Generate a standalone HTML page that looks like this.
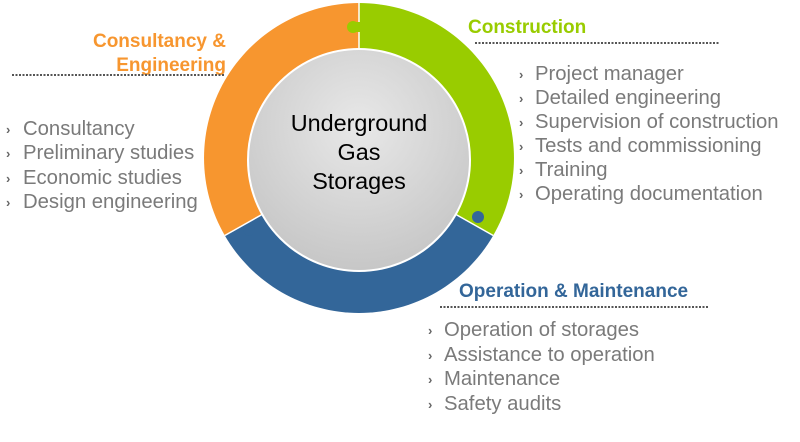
<!DOCTYPE html>
<html><head><meta charset="utf-8"><style>
html,body{margin:0;padding:0;background:#fff}
svg{display:block}
text{font-family:"Liberation Sans",Arial,sans-serif}
.it{font-size:20.3px;fill:#7a7a7a}
.bu{font-size:13px;fill:#666;font-weight:bold}
.hd{font-size:19px;font-weight:bold}
</style></head><body>
<svg width="800" height="442" viewBox="0 0 800 442" xmlns="http://www.w3.org/2000/svg">
<defs>
<radialGradient id="g" cx="50%" cy="35%" r="70%">
<stop offset="0" stop-color="#e8e8e8"/><stop offset="1" stop-color="#c4c4c4"/>
</radialGradient>
</defs>
<path d="M359,158 L359,3 A155,155 0 0 0 224.8,235.5 Z" fill="#F7962F"/>
<path d="M359,158 L359,3 A155,155 0 0 1 493.2,235.5 Z" fill="#99CC00"/>
<path d="M359,158 L224.8,235.5 A155,155 0 0 0 493.2,235.5 Z" fill="#336699"/>
<line x1="359" y1="3" x2="359" y2="60" stroke="#fff" stroke-width="1.5"/>
<line x1="224.8" y1="235.5" x2="270" y2="210" stroke="#fff" stroke-width="1.5"/>
<line x1="493.2" y1="235.5" x2="448" y2="210" stroke="#fff" stroke-width="1.5"/>
<circle cx="353" cy="27" r="6" fill="#99CC00"/>
<rect x="355" y="22" width="5" height="10" fill="#99CC00"/>
<circle cx="249" cy="230" r="6" fill="#336699"/>
<circle cx="478" cy="217" r="6" fill="#336699"/>
<circle cx="359" cy="160" r="111" fill="url(#g)" stroke="#fff" stroke-width="2"/>
<text x="359" y="131" text-anchor="middle" font-size="23.4" fill="#000">Underground</text>
<text x="359" y="160" text-anchor="middle" font-size="23.4" fill="#000">Gas</text>
<text x="359" y="189" text-anchor="middle" font-size="23.4" fill="#000">Storages</text>

<text x="226" y="47" text-anchor="end" class="hd" fill="#F7962F">Consultancy &amp;</text>
<text x="226" y="71" text-anchor="end" class="hd" fill="#F7962F">Engineering</text>
<line x1="12" y1="75" x2="224" y2="75" stroke="#555" stroke-width="2" stroke-dasharray="2,1.5"/>
<g>
<text x="6" y="134" class="bu">›</text><text x="23" y="135" class="it">Consultancy</text>
<text x="6" y="158" class="bu">›</text><text x="23" y="159" class="it">Preliminary studies</text>
<text x="6" y="183" class="bu">›</text><text x="23" y="184" class="it">Economic studies</text>
<text x="6" y="207" class="bu">›</text><text x="23" y="208" class="it">Design engineering</text>
</g>

<text x="468" y="33" class="hd" fill="#99CC00">Construction</text>
<line x1="475" y1="43" x2="720" y2="43" stroke="#555" stroke-width="2" stroke-dasharray="2,1.5"/>
<g>
<text x="519" y="79" class="bu">›</text><text x="535" y="80" class="it">Project manager</text>
<text x="519" y="103" class="bu">›</text><text x="535" y="104" class="it">Detailed engineering</text>
<text x="519" y="127" class="bu">›</text><text x="535" y="128" class="it">Supervision of construction</text>
<text x="519" y="151" class="bu">›</text><text x="535" y="152" class="it">Tests and commissioning</text>
<text x="519" y="175" class="bu">›</text><text x="535" y="176" class="it">Training</text>
<text x="519" y="199" class="bu">›</text><text x="535" y="200" class="it">Operating documentation</text>
</g>

<text x="459" y="297" class="hd" fill="#336699">Operation &amp; Maintenance</text>
<line x1="440" y1="307" x2="708" y2="307" stroke="#555" stroke-width="2" stroke-dasharray="2,1.5"/>
<g>
<text x="428" y="335" class="bu">›</text><text x="444" y="336" class="it">Operation of storages</text>
<text x="428" y="360" class="bu">›</text><text x="444" y="361" class="it">Assistance to operation</text>
<text x="428" y="384" class="bu">›</text><text x="444" y="385" class="it">Maintenance</text>
<text x="428" y="409" class="bu">›</text><text x="444" y="410" class="it">Safety audits</text>
</g>
</svg>
</body></html>
